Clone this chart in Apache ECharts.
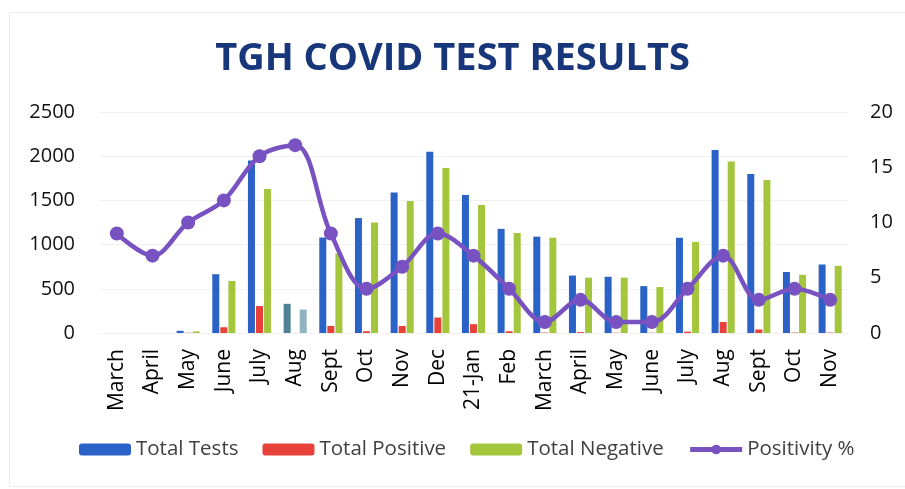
<!DOCTYPE html>
<html>
<head>
<meta charset="utf-8">
<script src="https://cdn.jsdelivr.net/npm/echarts@6/dist/echarts.min.js"></script>
<style>
html,body{margin:0;padding:0;background:#fff;}
#c{width:905px;height:489px;}
</style>
</head>
<body>
<div id="c"></div>
<script>
const categories = ["March","April","May","June","July","Aug","Sept","Oct","Nov","Dec","21-Jan","Feb","March","April","May","June","July","Aug","Sept","Oct","Nov"];
const totalTests = [0,0,25,665,1950,330,1080,1300,1590,2050,1560,1178,1090,650,636,530,1077,2070,1800,690,775];
const totalPositive = [0,0,3,65,305,0,80,20,80,175,100,20,5,10,3,3,15,125,40,5,5];
const totalNegative = [0,0,18,588,1628,265,900,1250,1493,1866,1448,1131,1078,626,626,520,1030,1940,1730,658,760];
const positivity = [9,7,10,12,16,17,9,4,6,9,7,4,1,3,1,1,4,7,3,4,3];
const leftTicks = [0,500,1000,1500,2000,2500];
const rightTicks = [0,5,10,15,20];

const BLUE = '#2a62c8', RED = '#e8413a', GREEN = '#a4c63c', PURPLE = '#7952c2';
const AUG = 5;
const testsData = totalTests.map((v,i)=> i===AUG ? {value:v,itemStyle:{color:'#4e8496'}} : v);
const negData = totalNegative.map((v,i)=> i===AUG ? {value:v,itemStyle:{color:'#8fb4c0'}} : v);

const chart = echarts.init(document.getElementById('c'));
const font = '"Open Sans", sans-serif';
chart.setOption({
  animation:false,
  backgroundColor:'#fff',
  title:{
    text:'TGH COVID TEST RESULTS',
    left:'center', top:35,
    textStyle:{fontFamily:font,fontWeight:'bold',fontSize:38,color:'#17377a'}
  },
  graphic:[{type:'rect',left:7,top:10,shape:{width:910,height:474},style:{fill:'none',stroke:'#ececec',lineWidth:1},silent:true}],
  legend:{
    bottom:24, left:74,
    itemWidth:52, itemHeight:12, itemGap:24,
    lineStyle:{width:5},
    textStyle:{fontFamily:font,fontSize:20.5,color:'#404040'},
    data:['Total Tests','Total Positive','Total Negative','Positivity %']
  },
  grid:{left:99,right:57,top:112,bottom:156,containLabel:false,outerBoundsMode:'none'},
  xAxis:{
    type:'category', data:categories,
    axisLine:{show:false}, axisTick:{show:false},
    axisLabel:{rotate:90,interval:0,margin:16,fontFamily:font,fontSize:21,color:'#000'}
  },
  yAxis:[{
    type:'value',min:leftTicks[0],max:leftTicks[leftTicks.length-1],interval:500,
    axisLabel:{margin:24,fontFamily:font,fontSize:20,color:'#111',formatter:v=>String(v)},
    splitLine:{lineStyle:{color:'#f1f1f1'}}
  },{
    type:'value',min:rightTicks[0],max:rightTicks[rightTicks.length-1],interval:5,
    axisLabel:{margin:22,fontFamily:font,fontSize:20,color:'#111',formatter:v=>String(v)},
    splitLine:{show:false}
  }],
  series:[
    {name:'Total Tests',type:'bar',data:testsData,barWidth:7,barGap:'15%',itemStyle:{color:BLUE}},
    {name:'Total Positive',type:'bar',data:totalPositive,barWidth:7,barGap:'15%',itemStyle:{color:RED}},
    {name:'Total Negative',type:'bar',data:negData,barWidth:7,barGap:'15%',itemStyle:{color:GREEN}},
    {name:'Positivity %',type:'line',yAxisIndex:1,data:positivity,smooth:0.35,
     symbol:'circle',symbolSize:14,lineStyle:{width:4.5,color:PURPLE},itemStyle:{color:PURPLE}}
  ]
});
</script>
</body>
</html>
